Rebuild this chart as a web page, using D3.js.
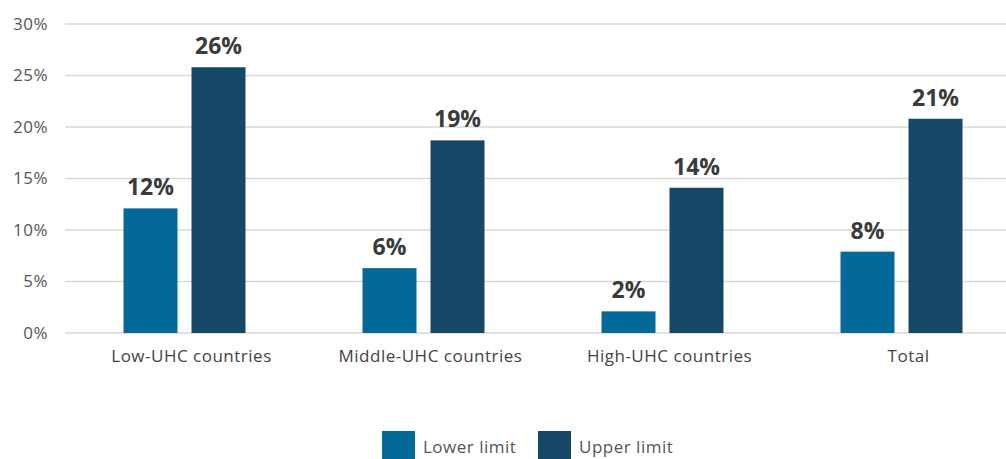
<!DOCTYPE html>
<html>
<head>
<meta charset="utf-8">
<script src="https://cdn.jsdelivr.net/npm/d3@7"></script>
<style>
  body { margin: 0; background: #fff; }
  svg { display: block; font-family: "Open Sans", Lato, sans-serif; }
</style>
</head>
<body>
<svg id="chart" width="1006" height="459"></svg>
<script>
const categories = ['Low-UHC countries', 'Middle-UHC countries', 'High-UHC countries', 'Total'];
const seriesNames = ['Lower limit', 'Upper limit'];
const lowerValues = [12.1, 6.3, 2.1, 7.9];
const upperValues = [25.8, 18.7, 14.1, 20.8];
const valueLabels = [['12%', '26%'], ['6%', '19%'], ['2%', '14%'], ['8%', '21%']];
const yTicks = [0, 5, 10, 15, 20, 25, 30];
const colors = ['#046899', '#174766'];

const svg = d3.select('#chart');

const x = d3.scaleBand()
  .domain(categories)
  .range([65, 1021])
  .paddingInner(0)
  .paddingOuter(0);

// two bars of ~54px with a ~14px gap inside each group
const inner = d3.scaleBand()
  .domain(seriesNames)
  .range([0, 122])
  .paddingInner(0.206);

const y = d3.scaleLinear()
  .domain([0, 30])
  .range([333, 24]);

// gridlines
svg.append('g')
  .selectAll('line')
  .data(yTicks)
  .join('line')
  .attr('x1', 65)
  .attr('x2', 1006)
  .attr('y1', d => y(d))
  .attr('y2', d => y(d))
  .attr('stroke', '#d9d9d9')
  .attr('stroke-width', 1.5);

// y tick labels
svg.append('g')
  .selectAll('text')
  .data(yTicks)
  .join('text')
  .attr('x', 48)
  .attr('y', d => y(d))
  .attr('dy', '0.35em')
  .attr('text-anchor', 'end')
  .attr('font-size', 17)
  .attr('letter-spacing', 0.5)
  .attr('fill', '#555')
  .text(d => d + '%');

const rows = categories.map((c, i) => ({
  cat: c,
  vals: [lowerValues[i], upperValues[i]],
  labels: valueLabels[i]
}));

const groups = svg.append('g')
  .selectAll('g')
  .data(rows)
  .join('g')
  .attr('transform', d => `translate(${x(d.cat) + x.bandwidth() / 2 - 61},0)`);

groups.selectAll('rect')
  .data(d => d.vals.map((v, j) => ({ v, s: seriesNames[j], j })))
  .join('rect')
  .attr('x', d => inner(d.s))
  .attr('y', d => y(d.v))
  .attr('width', inner.bandwidth())
  .attr('height', d => y(0) - y(d.v))
  .attr('fill', d => colors[d.j]);

groups.selectAll('text.val')
  .data(d => d.vals.map((v, j) => ({ v, s: seriesNames[j], t: d.labels[j] })))
  .join('text')
  .attr('class', 'val')
  .attr('x', d => inner(d.s) + inner.bandwidth() / 2)
  .attr('y', d => y(d.v) - 13)
  .attr('text-anchor', 'middle')
  .attr('font-size', 23)
  .attr('font-weight', 'bold')
  .attr('fill', '#3a3a3a')
  .text(d => d.t);

// category labels
svg.append('g')
  .selectAll('text')
  .data(categories)
  .join('text')
  .attr('x', d => x(d) + x.bandwidth() / 2 + 7)
  .attr('y', 362)
  .attr('text-anchor', 'middle')
  .attr('font-size', 17)
  .attr('letter-spacing', 0.5)
  .attr('fill', '#444')
  .text(d => d);

// legend
const legendX = [382, 538];
const legend = svg.append('g')
  .selectAll('g')
  .data(seriesNames)
  .join('g')
  .attr('transform', (d, i) => `translate(${legendX[i]},431)`);

legend.append('rect')
  .attr('width', 33)
  .attr('height', 28)
  .attr('fill', (d, i) => colors[i]);

legend.append('text')
  .attr('x', 41)
  .attr('y', 16)
  .attr('dy', '0.35em')
  .attr('font-size', 17)
  .attr('letter-spacing', 0.5)
  .attr('fill', '#555')
  .text(d => d);
</script>
</body>
</html>
